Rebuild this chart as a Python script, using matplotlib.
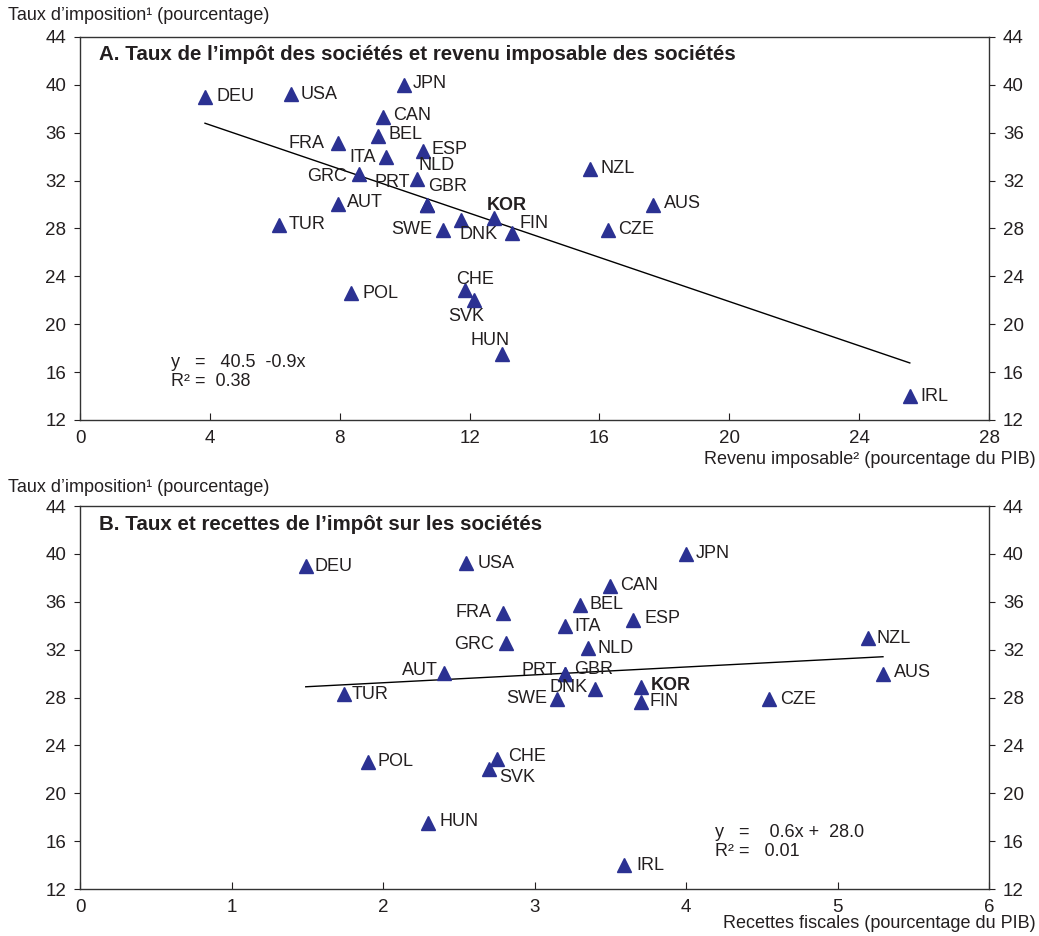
import numpy as np
import matplotlib.pyplot as plt

plt.rcParams['font.family'] = ['Liberation Sans', 'DejaVu Sans']

# country codes and statutory corporate tax rates (same for both panels)
countries = ['DEU', 'USA', 'JPN', 'CAN', 'BEL', 'FRA', 'ITA', 'ESP', 'GRC', 'NLD',
             'PRT', 'GBR', 'AUT', 'TUR', 'SWE', 'DNK', 'KOR', 'FIN', 'NZL', 'AUS',
             'CZE', 'POL', 'CHE', 'SVK', 'HUN', 'IRL']
tax_rate = [39.0, 39.2, 40.0, 37.35, 35.75, 35.1, 33.95, 34.5, 32.55, 32.1,
            30.0, 30.0, 30.05, 28.3, 27.9, 28.7, 28.85, 27.65, 32.95, 30.0,
            27.85, 22.6, 22.9, 22.0, 17.5, 14.0]
# panel A: taxable corporate income, % of GDP
taxable_income = [3.85, 6.49, 9.98, 9.34, 9.19, 7.96, 9.42, 10.56, 8.58, 10.37,
                  10.68, 10.68, 7.96, 6.14, 11.19, 11.75, 12.75, 13.3, 15.72, 17.64,
                  16.27, 8.34, 11.87, 12.15, 13.0, 25.56]
# panel B: corporate tax revenue, % of GDP
tax_revenue = [1.49, 2.55, 4.0, 3.50, 3.30, 2.79, 3.20, 3.65, 2.81, 3.35,
               3.20, 3.20, 2.40, 1.74, 3.15, 3.40, 3.70, 3.70, 5.20, 5.30,
               4.55, 1.90, 2.75, 2.70, 2.30, 3.59]

# label offsets in pixels (dx, dy, ha)
offs_a = {
    'DEU': (12, 0, 'left'), 'USA': (10, 0, 'left'), 'JPN': (9, 1, 'left'),
    'CAN': (10, 1, 'left'), 'BEL': (10, 1, 'left'), 'FRA': (-14, 0, 'right'),
    'ITA': (-10, 0, 'right'), 'ESP': (9, 1, 'left'), 'GRC': (-12, -2, 'right'),
    'NLD': (2, 14, 'left'), 'PRT': (-17, 22, 'right'), 'GBR': (1, 18, 'left'),
    'AUT': (9, 1, 'left'), 'TUR': (9, 0, 'left'), 'SWE': (-11, 0, 'right'),
    'DNK': (-2, -14, 'left'), 'KOR': (13, 13, 'center'), 'FIN': (8, 9, 'left'),
    'NZL': (10, 1, 'left'), 'AUS': (11, 1, 'left'), 'CZE': (10, 1, 'left'),
    'POL': (12, 0, 'left'), 'CHE': (10, 10, 'center'), 'SVK': (-8, -16, 'center'),
    'HUN': (-12, 14, 'center'), 'IRL': (11, 0, 'left'),
}
offs_b = {
    'DEU': (9, -1, 'left'), 'USA': (11, 0, 'left'), 'JPN': (10, 0, 'left'),
    'CAN': (10, 0, 'left'), 'BEL': (10, 0, 'left'), 'FRA': (-11, 0, 'right'),
    'ITA': (10, 0, 'left'), 'ESP': (12, 1, 'left'), 'GRC': (-12, -1, 'right'),
    'NLD': (10, 0, 'left'), 'PRT': (-8, 3, 'right'), 'GBR': (9, 4, 'left'),
    'AUT': (-6, 2, 'right'), 'TUR': (8, -1, 'left'), 'SWE': (-10, 0, 'right'),
    'DNK': (-7, 2, 'right'), 'KOR': (10, 2, 'left'), 'FIN': (9, 0, 'left'),
    'NZL': (9, 0, 'left'), 'AUS': (11, 1, 'left'), 'CZE': (11, 0, 'left'),
    'POL': (10, 1, 'left'), 'CHE': (11, 2, 'left'), 'SVK': (10, -8, 'left'),
    'HUN': (11, 2, 'left'), 'IRL': (12, 0, 'left'),
}

navy = '#2b3192'
ink = '#231f20'

fig = plt.figure(figsize=(10.39, 9.36), dpi=100)
ax_a = fig.add_axes([0.077, 0.5513, 0.8749, 0.4092])
ax_b = fig.add_axes([0.077, 0.0502, 0.8749, 0.4092])


def draw_panel(ax, xs, offs, xmax, xstep, title, eq1, eq2, eqpos):
    ax.plot(xs, tax_rate, linestyle='none', marker='^', markersize=9.5,
            color=navy, markeredgecolor=navy, zorder=3)
    for c, x, y in zip(countries, xs, tax_rate):
        dx, dy, ha = offs[c]
        ax.annotate(c, (x, y), xytext=(dx, dy), textcoords='offset pixels',
                    ha=ha, va='center', fontsize=13, color=ink,
                    fontweight='bold' if c == 'KOR' else 'normal', zorder=4)
    # linear trend through the points
    slope, icpt = np.polyfit(xs, tax_rate, 1)
    xl = np.array([min(xs), max(xs)])
    ax.plot(xl, icpt + slope * xl, color='black', lw=1, zorder=2)

    ax.set_xlim(0, xmax)
    ax.set_ylim(12, 44)
    ax.set_xticks(np.arange(0, xmax + 0.01, xstep))
    ax.set_yticks(np.arange(12, 45, 4))
    ax.tick_params(axis='x', direction='in', length=5, labelsize=13.5,
                   colors=ink, pad=7)
    ax.tick_params(axis='y', direction='out', length=4, labelsize=13.5,
                   colors=ink, left=True, right=True, labelleft=True,
                   labelright=True, pad=6)
    for s in ax.spines.values():
        s.set_color('#333333')
        s.set_linewidth(1.0)
    ax.text(0.021, 0.953, title, transform=ax.transAxes, fontsize=14.8,
            fontweight='bold', color=ink, va='center')
    ax.text(eqpos[0], eqpos[1], eq1, fontsize=13, color=ink, va='center')
    ax.text(eqpos[0], eqpos[1] - 1.55, eq2, fontsize=13, color=ink, va='center')


draw_panel(ax_a, taxable_income, offs_a, 28, 4,
           'A. Taux de l’impôt des sociétés et revenu imposable des sociétés',
           'y   =   40.5  -0.9x', 'R² =  0.38', (2.8, 16.8))
draw_panel(ax_b, tax_revenue, offs_b, 6, 1,
           'B. Taux et recettes de l’impôt sur les sociétés',
           'y   =    0.6x +  28.0', 'R² =   0.01', (4.19, 16.7))

fig.text(8 / 1039, 1 - 15 / 936, 'Taux d’imposition¹ (pourcentage)',
         fontsize=13, color=ink, va='center')
fig.text(8 / 1039, 1 - 487 / 936, 'Taux d’imposition¹ (pourcentage)',
         fontsize=13, color=ink, va='center')
fig.text(1036 / 1039, 1 - 459 / 936, 'Revenu imposable² (pourcentage du PIB)',
         fontsize=13, color=ink, va='center', ha='right')
fig.text(1036 / 1039, 1 - 923 / 936, 'Recettes fiscales (pourcentage du PIB)',
         fontsize=13, color=ink, va='center', ha='right')

fig.savefig('out.png', dpi=100)
